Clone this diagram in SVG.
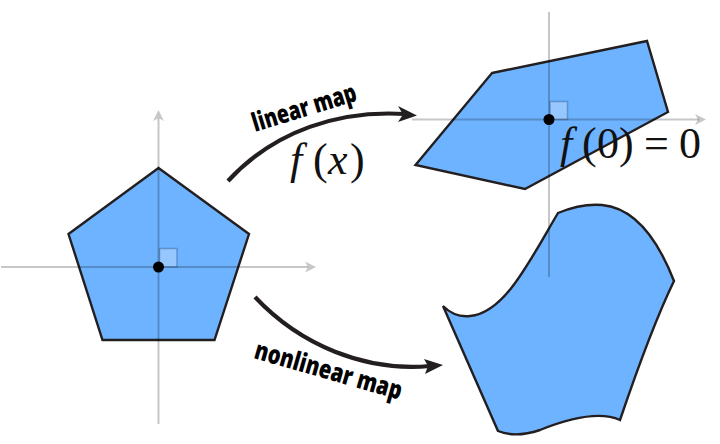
<svg xmlns="http://www.w3.org/2000/svg" width="720" height="444" viewBox="0 0 720 444">
<style>
.shape{fill:#6eb3ff;stroke:#231f20;stroke-width:2.4;stroke-linejoin:miter}
.axis{fill:none;stroke:#000;stroke-opacity:.22;stroke-width:2}
.head{fill:#000;fill-opacity:.22}
.sq{fill:#fff;fill-opacity:.28;stroke:#3f6fa8;stroke-opacity:.55;stroke-width:1.5}
.dot{fill:#000}
.conn{fill:none;stroke:#231f20;stroke-width:4.2}
.arrow{fill:#231f20}
.lab{font-family:"Open Sans","Liberation Sans",sans-serif;font-weight:800;font-size:26px;fill:#000}
.math{font-family:"Liberation Serif",serif;font-size:44px;fill:#111}
.mi{font-style:italic}
</style>
<rect width="720" height="444" fill="#fff"/>
<g id="source-pentagon">
<polygon class="shape" points="158.5,168 249,234 214.5,340 102.5,340 68.5,234"/>
<path class="sq" d="M159.500 248.500H177V267H159.500Z"/>
</g>
<g id="linear-image">
<polygon class="shape" points="492,73 647,41 668,112 525,189 415.500,165"/>
<path class="sq" d="M550 101.500H567.500V119.500H550Z"/>
</g>
<g id="nonlinear-image">
<path class="shape" d="M443 306C452 315 461 317 470 316C505 313 530 260 558 213C575 206 590 204 602 205C635 208 658 240 674 281C655 320 637 370 620 420C600 411 570 418 540 430C525 435 510 436 498 431C478 385 460 345 443 306Z"/>
</g>
<g id="axes-source">
<path class="axis" d="M1 267H308M158.500 424V118"/>
<path class="head" d="M316 267L305 261.500L308 267L305 272.500ZM158.500 110L153 121L158.500 118L164 121Z"/>
<circle class="dot" cx="158.500" cy="267" r="5.500"/>
</g>
<g id="axes-linear">
<path class="axis" d="M412 119.500H699M549 277V12"/>
<path class="head" d="M706 119.500L695 114L698 119.500L695 125Z"/>
<circle class="dot" cx="549" cy="119.500" r="5.500"/>
</g>
<g id="connectors">
<path class="conn" d="M228 181C275 130 340 110 405 114"/>
<path class="arrow" d="M417 115.500L398 106L403 114.500L398 122Z"/>
<path class="conn" d="M255 297C300 345 365 372 430 366"/>
<path class="arrow" d="M443 365L424 359L428 366L425 374Z"/>
</g>
<g id="labels">
<text class="lab" transform="translate(255 132) rotate(-17)" textLength="108" lengthAdjust="spacingAndGlyphs">linear map</text>
<text class="lab" transform="translate(253 358) rotate(16)" textLength="152" lengthAdjust="spacingAndGlyphs">nonlinear map</text>
<text class="math" y="174"><tspan class="mi" x="290">f</tspan><tspan x="313">(</tspan><tspan class="mi" x="328">x</tspan><tspan x="350">)</tspan></text>
<text class="math" y="158"><tspan class="mi" x="560">f</tspan><tspan x="582">(</tspan><tspan x="597">0</tspan><tspan x="619">)</tspan><tspan x="644">=</tspan><tspan x="679">0</tspan></text>
</g>
</svg>
